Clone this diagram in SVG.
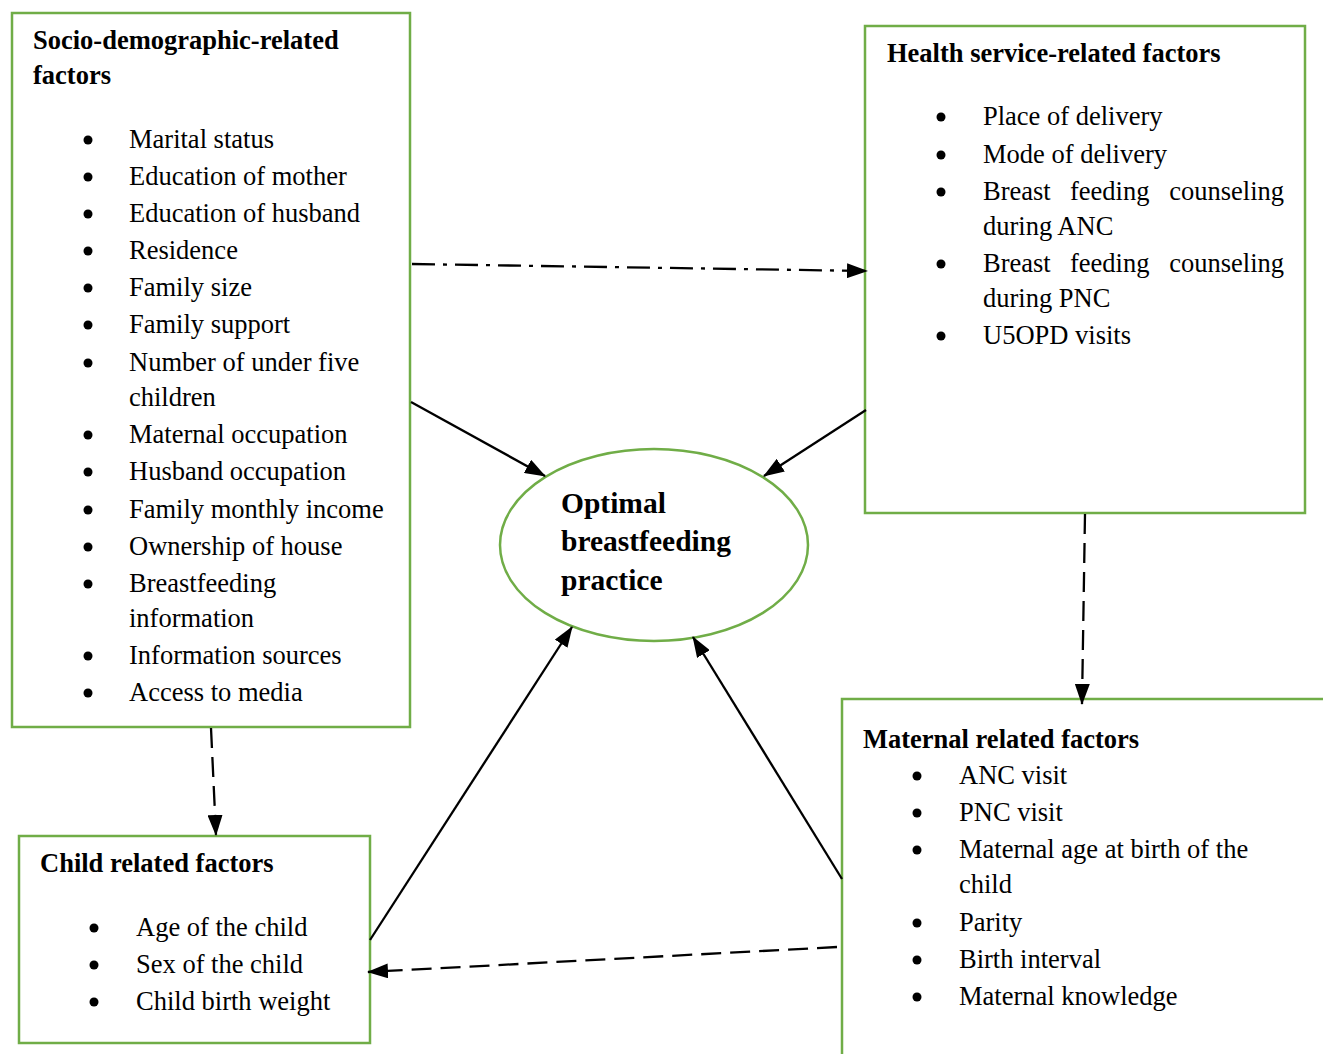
<svg xmlns="http://www.w3.org/2000/svg" width="1323" height="1054" viewBox="0 0 1323 1054">
<style>
.box{fill:#fff;stroke:#70ad47;stroke-width:2.5}
.t{font-family:"Liberation Serif","Times New Roman",serif;font-size:26.5px;fill:#000}
.h{font-family:"Liberation Serif","Times New Roman",serif;font-size:26.5px;font-weight:bold;fill:#000}
.e{font-family:"Liberation Serif","Times New Roman",serif;font-size:29.5px;font-weight:bold;fill:#000}
.c{stroke:#000;stroke-width:2.3;fill:none}
.dash{stroke-dasharray:20 9}
.dd{stroke-dasharray:23 8 4 8}
.b{fill:#000}
</style>
<defs>
<marker id="ah" viewBox="0 0 21 15" refX="20" refY="7.5" markerWidth="21" markerHeight="15" markerUnits="userSpaceOnUse" orient="auto">
<path d="M0,0 L21,7.5 L0,15 z" fill="#000"/>
</marker>
</defs>
<rect width="1323" height="1054" fill="#fff"/>

<g id="socio">
<rect class="box" x="12" y="13" width="398" height="714"/>
<text class="h" x="33" y="49">Socio-demographic-related</text>
<text class="h" x="33" y="84">factors</text>
<g class="b">
<circle cx="88" cy="140" r="4.5"/><circle cx="88" cy="177" r="4.5"/><circle cx="88" cy="214" r="4.5"/><circle cx="88" cy="251" r="4.5"/><circle cx="88" cy="288" r="4.5"/><circle cx="88" cy="325" r="4.5"/><circle cx="88" cy="363" r="4.5"/><circle cx="88" cy="435" r="4.5"/><circle cx="88" cy="472" r="4.5"/><circle cx="88" cy="510" r="4.5"/><circle cx="88" cy="547" r="4.5"/><circle cx="88" cy="584" r="4.5"/><circle cx="88" cy="656" r="4.5"/><circle cx="88" cy="693" r="4.5"/>
</g>
<text class="t" x="129" y="148">Marital status</text>
<text class="t" x="129" y="185">Education of mother</text>
<text class="t" x="129" y="222">Education of husband</text>
<text class="t" x="129" y="259">Residence</text>
<text class="t" x="129" y="296">Family size</text>
<text class="t" x="129" y="333">Family support</text>
<text class="t" x="129" y="371">Number of under five</text>
<text class="t" x="129" y="406">children</text>
<text class="t" x="129" y="443">Maternal occupation</text>
<text class="t" x="129" y="480">Husband occupation</text>
<text class="t" x="129" y="518">Family monthly income</text>
<text class="t" x="129" y="555">Ownership of house</text>
<text class="t" x="129" y="592">Breastfeeding</text>
<text class="t" x="129" y="627">information</text>
<text class="t" x="129" y="664">Information sources</text>
<text class="t" x="129" y="701">Access to media</text>
</g>

<g id="health">
<rect class="box" x="865" y="26" width="440" height="487"/>
<text class="h" x="887" y="62">Health service-related factors</text>
<g class="b">
<circle cx="941" cy="117" r="4.5"/><circle cx="941" cy="155" r="4.5"/><circle cx="941" cy="192" r="4.5"/><circle cx="941" cy="264" r="4.5"/><circle cx="941" cy="336" r="4.5"/>
</g>
<text class="t" x="983" y="125">Place of delivery</text>
<text class="t" x="983" y="163">Mode of delivery</text>
<text class="t" y="200"><tspan x="983">Breast</tspan><tspan x="1070">feeding</tspan><tspan x="1284" text-anchor="end">counseling</tspan></text>
<text class="t" x="983" y="235">during ANC</text>
<text class="t" y="272"><tspan x="983">Breast</tspan><tspan x="1070">feeding</tspan><tspan x="1284" text-anchor="end">counseling</tspan></text>
<text class="t" x="983" y="307">during PNC</text>
<text class="t" x="983" y="344">U5OPD visits</text>
</g>

<g id="outcome">
<ellipse cx="654" cy="545" rx="154" ry="96" fill="#fff" stroke="#70ad47" stroke-width="2.5"/>
<text class="e" x="561" y="513">Optimal</text>
<text class="e" x="561" y="551">breastfeeding</text>
<text class="e" x="561" y="590">practice</text>
</g>

<g id="child">
<rect class="box" x="19" y="836" width="351" height="207"/>
<text class="h" x="40" y="872">Child related factors</text>
<g class="b">
<circle cx="94" cy="928" r="4.5"/><circle cx="94" cy="965" r="4.5"/><circle cx="94" cy="1002" r="4.5"/>
</g>
<text class="t" x="136" y="936">Age of the child</text>
<text class="t" x="136" y="973">Sex of the child</text>
<text class="t" x="136" y="1010">Child birth weight</text>
</g>

<g id="maternal">
<rect class="box" x="842" y="699" width="500" height="380"/>
<text class="h" x="863" y="748">Maternal related factors</text>
<g class="b">
<circle cx="917" cy="776" r="4.5"/><circle cx="917" cy="813" r="4.5"/><circle cx="917" cy="850" r="4.5"/><circle cx="917" cy="923" r="4.5"/><circle cx="917" cy="960" r="4.5"/><circle cx="917" cy="997" r="4.5"/>
</g>
<text class="t" x="959" y="784">ANC visit</text>
<text class="t" x="959" y="821">PNC visit</text>
<text class="t" x="959" y="858">Maternal age at birth of the</text>
<text class="t" x="959" y="893">child</text>
<text class="t" x="959" y="931">Parity</text>
<text class="t" x="959" y="968">Birth interval</text>
<text class="t" x="959" y="1005">Maternal knowledge</text>
</g>

<g id="connectors">
<line class="c dd" x1="412" y1="264" x2="867" y2="271" marker-end="url(#ah)"/>
<line class="c" x1="411" y1="402" x2="545" y2="476" marker-end="url(#ah)"/>
<line class="c" x1="866" y1="410" x2="764" y2="476" marker-end="url(#ah)"/>
<line class="c dash" x1="1085" y1="514" x2="1082" y2="704" marker-end="url(#ah)"/>
<line class="c dash" x1="211" y1="728" x2="216" y2="835" marker-end="url(#ah)"/>
<line class="c" x1="370" y1="940" x2="572" y2="627" marker-end="url(#ah)"/>
<line class="c" x1="842" y1="879" x2="693" y2="637" marker-end="url(#ah)"/>
<line class="c dash" x1="837" y1="947" x2="368" y2="972" marker-end="url(#ah)"/>
</g>
</svg>
